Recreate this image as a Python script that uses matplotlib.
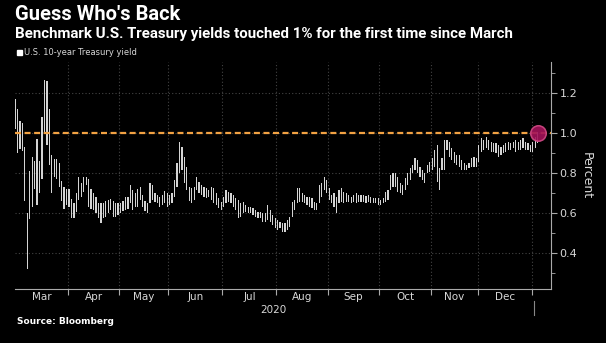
import matplotlib
matplotlib.use("Agg")
import matplotlib.pyplot as plt
import matplotlib.patches as patches
import matplotlib.transforms as transforms

# daily high / low of the US 10-year yield, one list per month (trading days)
mar_hi = [1.17, 1.12, 1.06, 1.05, 0.93, 0.60, 0.81, 0.88, 0.86, 0.97, 0.86, 1.08, 1.265, 1.26, 1.12, 0.89, 0.87, 0.87, 0.85, 0.76, 0.73, 0.72]
mar_lo = [1.02, 0.90, 0.92, 0.91, 0.66, 0.32, 0.57, 0.63, 0.72, 0.64, 0.70, 0.77, 1.00, 0.94, 0.84, 0.70, 0.78, 0.77, 0.73, 0.66, 0.62, 0.64]
apr_hi = [0.72, 0.67, 0.65, 0.70, 0.78, 0.75, 0.78, 0.78, 0.77, 0.72, 0.70, 0.68, 0.65, 0.65, 0.65, 0.66, 0.665, 0.67, 0.66, 0.65, 0.65]
apr_lo = [0.63, 0.575, 0.575, 0.605, 0.665, 0.68, 0.705, 0.74, 0.63, 0.62, 0.615, 0.60, 0.575, 0.55, 0.575, 0.58, 0.60, 0.615, 0.58, 0.58, 0.59]
may_hi = [0.65, 0.66, 0.68, 0.68, 0.74, 0.715, 0.70, 0.72, 0.73, 0.69, 0.66, 0.65, 0.75, 0.74, 0.70, 0.69, 0.68, 0.69, 0.71, 0.70]
may_lo = [0.60, 0.61, 0.615, 0.62, 0.65, 0.615, 0.63, 0.63, 0.665, 0.63, 0.61, 0.60, 0.65, 0.665, 0.655, 0.65, 0.63, 0.64, 0.65, 0.63]
jun_hi = [0.69, 0.70, 0.765, 0.85, 0.957, 0.93, 0.88, 0.83, 0.73, 0.723, 0.73, 0.78, 0.757, 0.74, 0.732, 0.723, 0.715, 0.732, 0.723, 0.698, 0.673, 0.657]
jun_lo = [0.64, 0.648, 0.68, 0.73, 0.80, 0.815, 0.75, 0.715, 0.66, 0.648, 0.665, 0.715, 0.698, 0.69, 0.682, 0.673, 0.682, 0.665, 0.648, 0.64, 0.623, 0.615]
jul_hi = [0.682, 0.715, 0.707, 0.698, 0.69, 0.673, 0.665, 0.65, 0.657, 0.64, 0.632, 0.632, 0.623, 0.615, 0.607, 0.607, 0.598, 0.598, 0.64, 0.615, 0.59, 0.573]
jul_lo = [0.632, 0.648, 0.657, 0.648, 0.632, 0.615, 0.575, 0.582, 0.60, 0.607, 0.598, 0.598, 0.59, 0.582, 0.573, 0.573, 0.557, 0.557, 0.565, 0.557, 0.54, 0.523]
aug_hi = [0.565, 0.557, 0.548, 0.548, 0.565, 0.582, 0.657, 0.665, 0.723, 0.723, 0.698, 0.69, 0.682, 0.682, 0.673, 0.657, 0.648, 0.74, 0.748, 0.78, 0.765]
aug_lo = [0.515, 0.523, 0.507, 0.503, 0.515, 0.532, 0.58, 0.615, 0.648, 0.657, 0.657, 0.648, 0.64, 0.632, 0.623, 0.615, 0.615, 0.648, 0.682, 0.715, 0.698]
sep_hi = [0.723, 0.69, 0.698, 0.682, 0.715, 0.723, 0.707, 0.698, 0.69, 0.682, 0.69, 0.698, 0.69, 0.69, 0.69, 0.685, 0.69, 0.682, 0.673, 0.673, 0.673]
sep_lo = [0.665, 0.648, 0.632, 0.598, 0.648, 0.657, 0.648, 0.657, 0.657, 0.648, 0.657, 0.648, 0.657, 0.657, 0.657, 0.652, 0.657, 0.652, 0.648, 0.648, 0.64]
oct_hi = [0.665, 0.673, 0.707, 0.715, 0.79, 0.80, 0.80, 0.78, 0.748, 0.74, 0.773, 0.798, 0.823, 0.84, 0.873, 0.865, 0.832, 0.815, 0.798, 0.84, 0.857]
oct_lo = [0.64, 0.648, 0.657, 0.665, 0.715, 0.732, 0.732, 0.707, 0.698, 0.69, 0.715, 0.74, 0.765, 0.798, 0.815, 0.798, 0.782, 0.765, 0.748, 0.798, 0.807]
nov_hi = [0.873, 0.915, 0.94, 0.823, 0.873, 0.965, 0.965, 0.957, 0.923, 0.907, 0.89, 0.89, 0.865, 0.848, 0.84, 0.848, 0.873, 0.882, 0.873]
nov_lo = [0.815, 0.83, 0.757, 0.715, 0.815, 0.815, 0.915, 0.882, 0.865, 0.848, 0.84, 0.832, 0.815, 0.815, 0.815, 0.823, 0.832, 0.832, 0.832]
dec_hi = [0.94, 0.973, 0.965, 0.982, 0.965, 0.957, 0.948, 0.948, 0.94, 0.932, 0.94, 0.948, 0.957, 0.948, 0.957, 0.965, 0.957, 0.965, 0.973, 0.957, 0.948, 0.94]
dec_lo = [0.857, 0.907, 0.915, 0.923, 0.915, 0.907, 0.907, 0.898, 0.882, 0.89, 0.898, 0.907, 0.915, 0.915, 0.923, 0.907, 0.915, 0.915, 0.923, 0.915, 0.915, 0.907]
jan_hi = [0.957, 0.982, 1.007]
jan_lo = [0.907, 0.923, 0.948]

months = ["Mar", "Apr", "May", "Jun", "Jul", "Aug", "Sep", "Oct", "Nov", "Dec"]
yticks = [0.4, 0.6, 0.8, 1.0, 1.2]
level = 1.0

hi = mar_hi + apr_hi + may_hi + jun_hi + jul_hi + aug_hi + sep_hi + oct_hi + nov_hi + dec_hi + jan_hi
lo = mar_lo + apr_lo + may_lo + jun_lo + jul_lo + aug_lo + sep_lo + oct_lo + nov_lo + dec_lo + jan_lo
x = list(range(len(hi)))

# month boundaries (between last day of one month and first of next)
lens = [len(mar_hi), len(apr_hi), len(may_hi), len(jun_hi), len(jul_hi), len(aug_hi),
        len(sep_hi), len(oct_hi), len(nov_hi), len(dec_hi)]
bounds = []
pos = 0
for n in lens:
    pos += n
    bounds.append(pos - 0.5)
xmin, xmax = 0.0, 218.4
starts = [xmin] + bounds[:-1]
centers = [(a + b) / 2 for a, b in zip(starts, bounds)]

fg = "#d8d8d8"
grid = "#444444"
head = ["Roboto", "DejaVu Sans"]

fig = plt.figure(figsize=(6.06, 3.43), dpi=100, facecolor="black")
ax = fig.add_axes([15 / 606, 54 / 343, 536 / 606, 227 / 343], facecolor="black")

ax.bar(x, [h - l for h, l in zip(hi, lo)], bottom=lo, width=0.5, color="#d4d4d4", linewidth=0, zorder=3)
ax.axhline(level, color="#f2a243", lw=1.6, dashes=(2.7, 1.6), zorder=4)
ax.scatter([x[-1]], [level], s=125, color="#a3125a", edgecolor="#d24a86", lw=1.1, alpha=0.9, zorder=5)

ax.set_xlim(xmin, xmax)
ax.set_ylim(0.22, 1.355)

ax.yaxis.tick_right()
ax.yaxis.set_label_position("right")
ax.set_yticks(yticks)
ax.set_yticklabels(["%.1f" % v for v in yticks])
ax.set_yticks([0.3, 0.5, 0.7, 0.9, 1.1, 1.3], minor=True)
ax.tick_params(axis="y", which="major", colors="#aaaaaa", labelcolor=fg, labelsize=8, length=4, pad=2)
ax.tick_params(axis="y", which="minor", colors="#aaaaaa", length=3)
ax.set_ylabel("Percent", color=fg, fontsize=9, rotation=270, labelpad=11)

ax.set_xticks(bounds)
ax.set_xticklabels([])
ax.set_xticks(centers, minor=True)
ax.set_xticklabels(months, minor=True)
ax.tick_params(axis="x", which="major", colors="#aaaaaa", length=4)
ax.tick_params(axis="x", which="minor", length=0, labelcolor=fg, labelsize=7.5, pad=2)

ax.grid(True, which="major", color=grid, linestyle=(0, (1, 2)), lw=0.8)
for s in ["top", "left"]:
    ax.spines[s].set_visible(False)
for s in ["right", "bottom"]:
    ax.spines[s].set_color("#aaaaaa")

# year label and separator under the axis
trans = transforms.blended_transform_factory(ax.transData, ax.transAxes)
ax.text((xmin + bounds[-1]) / 2, -0.093, "2020", transform=trans, color=fg, fontsize=7.5,
        ha="center", va="center")
ax.plot([bounds[-1] + 1, bounds[-1] + 1], [-0.055, -0.115], transform=trans, color="#888888",
        lw=0.8, clip_on=False)

fig.text(15 / 606, 1 - 15 / 343, "Guess Who's Back", color="white", fontsize=14.5,
         fontweight="bold", va="center", family=head)
fig.text(15 / 606, 1 - 34 / 343,
         "Benchmark U.S. Treasury yields touched 1% for the first time since March",
         color="white", fontsize=10.8, fontweight="bold", va="center", family=head)
fig.patches.append(patches.Rectangle((17 / 606, 1 - 55 / 343), 5 / 606, 5 / 343,
                                     transform=fig.transFigure, color="white"))
fig.text(24 / 606, 1 - 52.5 / 343, "U.S. 10-year Treasury yield", color=fg, fontsize=6,
         va="center")
fig.text(17 / 606, 1 - 322 / 343, "Source: Bloomberg", color="white", fontsize=6.5,
         fontweight="bold", va="center")

fig.savefig("out.png", dpi=100, facecolor="black")
